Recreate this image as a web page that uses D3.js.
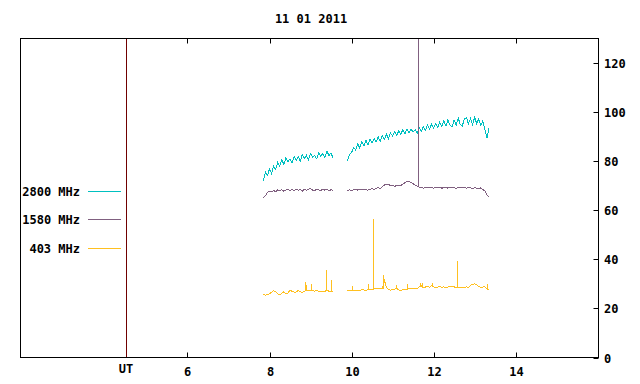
<!DOCTYPE html>
<html lang="en">
<head>
<meta charset="UTF-8">
<title>11 01 2011</title>
<style>
  body { margin: 0; background: #fff; }
  text { font-family: "DejaVu Sans Mono", monospace; font-weight: bold; font-size: 12px; fill: #000; }
</style>
</head>
<body>
<script src="https://d3js.org/d3.v7.min.js"></script>
<script>
// sample times (UT hours), two observing segments
var timesA = [7.85,7.90,7.95,8.00,8.05,8.10,8.15,8.20,8.25,8.30,8.35,8.40,8.45,8.50,8.55,8.60,8.65,8.70,8.75,8.80,8.85,8.90,8.95,9.00,9.05,9.10,9.15,9.20,9.25,9.30,9.35,9.40,9.45,9.50,9.55];
var timesB = [9.90,9.95,10.00,10.05,10.10,10.15,10.20,10.25,10.30,10.35,10.40,10.45,10.50,10.55,10.60,10.65,10.70,10.75,10.80,10.85,10.90,10.95,
  11.00,11.05,11.10,11.15,11.20,11.25,11.30,11.35,11.40,11.45,11.50,11.55,11.60,11.65,11.70,11.75,11.80,11.85,11.90,11.95,
  12.00,12.05,12.10,12.15,12.20,12.25,12.30,12.35,12.40,12.45,12.50,12.55,12.60,12.65,12.70,12.75,12.80,12.85,12.90,12.95,
  13.00,13.05,13.10,13.15,13.20,13.25,13.30,13.35];

// 2800 MHz
var f2800A = [72.0,75.5,74.2,76.8,75.0,77.9,76.6,79.5,78.0,80.6,78.6,81.4,79.8,81.0,79.2,82.0,80.4,81.9,80.0,82.7,
  81.1,82.4,80.5,83.0,81.6,82.3,81.0,83.4,82.1,83.2,81.5,84.1,82.3,83.3,81.2];
var f2800B = [80.0,82.8,83.5,85.6,84.6,87.1,85.4,87.9,86.2,88.6,86.7,88.9,87.3,89.2,88.0,89.9,88.1,90.4,88.9,91.0,89.3,91.5,
  90.2,91.9,90.5,92.3,91.0,92.8,91.2,93.0,91.6,93.1,91.8,92.9,91.4,93.6,92.2,94.0,92.6,94.7,93.1,95.0,
  93.4,95.3,93.8,95.9,94.0,96.4,94.3,96.9,94.6,93.9,96.8,94.7,97.6,95.0,94.4,97.1,97.8,95.2,97.4,94.9,
  97.9,95.4,97.2,94.5,96.4,93.0,89.3,93.4];

// 1580 MHz
var f1580A = [65.2,66.0,67.2,67.8,67.5,68.1,67.6,68.3,67.9,68.4,67.8,68.2,68.6,68.0,68.5,67.9,68.7,68.2,68.4,67.8,68.6,68.1,68.5,68.9,68.2,67.9,68.6,68.3,68.0,68.7,68.2,68.5,67.9,68.4,68.1];
var f1580B = [67.8,68.3,68.0,68.4,68.6,68.2,68.5,68.3,68.7,68.4,68.2,68.6,68.8,68.5,69.0,69.2,68.9,69.6,70.3,70.6,70.4,70.2,
  70.0,69.8,70.0,70.3,70.1,70.6,71.2,71.7,71.8,71.3,70.8,70.2,69.8,69.5,69.2,69.0,69.3,69.1,69.4,69.2,
  69.0,69.3,69.1,69.4,69.0,69.2,69.3,69.0,69.4,69.1,69.2,69.0,69.3,69.1,69.4,69.2,69.0,69.3,69.1,68.9,
  69.2,69.0,68.8,69.1,68.4,67.9,66.2,65.6];

// 403 MHz
var f403A = [25.8,25.4,25.6,25.9,26.6,27.2,26.8,25.9,25.5,26.2,26.8,25.8,26.3,27.4,27.0,26.6,26.7,27.3,26.9,26.4,27.0,27.4,27.2,27.3,27.2,27.0,27.3,26.9,26.8,27.0,26.9,27.6,27.0,27.1,26.7];
var f403B = [27.3,27.4,27.2,27.4,27.3,27.5,27.4,27.6,27.5,27.4,27.7,27.6,27.8,27.9,28.1,27.9,28.2,28.0,31.5,28.6,27.7,27.5,
  27.6,27.8,28.2,27.5,27.4,27.6,27.5,27.7,28.2,28.3,27.9,28.1,28.0,28.9,29.2,28.5,28.7,29.0,28.6,29.4,
  28.8,28.5,28.7,28.9,28.6,28.8,28.4,28.7,29.0,28.9,28.8,28.5,28.7,28.4,28.6,28.5,28.8,28.6,29.4,29.8,
  30.0,29.6,29.0,28.6,28.7,28.8,28.0,27.6];

// short bursts: [time, peak value]
var spikes403 = [[8.86,30.8],[8.88,29.6],[9.02,29.8],[9.37,35.5],[9.50,31.5],
  [10.02,29.2],[10.40,30.0],[10.52,56.3],[10.77,33.7],[11.09,29.4],[11.36,29.8],[11.66,30.5],[11.72,30.5],[11.95,30.4],[12.58,39.2],[13.30,29.8]];
var spikes1580 = [[11.63,140]];
var spikes2800 = [];

var seriesNames = ["2800 MHz", "1580 MHz", "403 MHz"];
var seriesColors = ["#00c0c0", "#806080", "#ffc020"];
var xTicks = [6, 8, 10, 12, 14];
var yTicks = [0, 20, 40, 60, 80, 100, 120];
var utMark = 4.5;
var title = "11 01 2011";

var W = 640, H = 384;
var pL = 20.5, pR = 598.5, pT = 38.5, pB = 357.5;

var x = d3.scaleLinear().domain([1.93, 16.02]).range([pL, pR]);
var y = d3.scaleLinear().domain([0, 130]).range([pB, pT]);

var svg = d3.select("body").append("svg")
  .attr("width", W).attr("height", H);

svg.append("defs").append("clipPath").attr("id", "plot")
  .append("rect").attr("x", pL).attr("y", pT)
  .attr("width", pR - pL).attr("height", pB - pT);

svg.append("text").attr("x", 311).attr("y", 23)
  .attr("text-anchor", "middle").text(title);

// UT marker line
svg.append("line")
  .attr("x1", Math.round(x(utMark)) + 0.5).attr("x2", Math.round(x(utMark)) + 0.5)
  .attr("y1", pT).attr("y2", pB)
  .attr("stroke", "#700000").attr("stroke-width", 1);

var series = [
  { segs: [[timesA, f2800A], [timesB, f2800B]], spikes: spikes2800 },
  { segs: [[timesA, f1580A], [timesB, f1580B]], spikes: spikes1580 },
  { segs: [[timesA, f403A], [timesB, f403B]], spikes: spikes403 }
];

var line = d3.line().x(function(d) { return x(d[0]); }).y(function(d) { return y(d[1]); });
var plot = svg.append("g").attr("clip-path", "url(#plot)")
  .attr("shape-rendering", "crispEdges");

series.forEach(function(s, i) {
  var all = [];
  s.segs.forEach(function(seg) {
    var pts = seg[0].map(function(t, k) { return [t, seg[1][k]]; });
    all = all.concat(pts);
    plot.append("path").datum(pts)
      .attr("d", line)
      .attr("fill", "none")
      .attr("stroke", seriesColors[i])
      .attr("stroke-width", 1);
  });
  s.spikes.forEach(function(sp) {
    var near = d3.least(all, function(p) { return Math.abs(p[0] - sp[0]); });
    var xp = Math.round(x(sp[0])) + 0.5;
    plot.append("line")
      .attr("x1", xp).attr("x2", xp)
      .attr("y1", y(near[1])).attr("y2", y(sp[1]))
      .attr("stroke", seriesColors[i]).attr("stroke-width", 1);
  });
});

// frame
svg.append("rect").attr("x", pL).attr("y", pT)
  .attr("width", pR - pL).attr("height", pB - pT)
  .attr("fill", "none").attr("stroke", "#000").attr("stroke-width", 1);

// x ticks (bottom and top, inward)
xTicks.forEach(function(t) {
  var xp = Math.round(x(t)) + 0.5;
  svg.append("line").attr("x1", xp).attr("x2", xp).attr("y1", pB).attr("y2", pB - 5).attr("stroke", "#000");
  svg.append("line").attr("x1", xp).attr("x2", xp).attr("y1", pT).attr("y2", pT + 5).attr("stroke", "#000");
  svg.append("text").attr("x", xp).attr("y", 376).attr("text-anchor", "middle").text(t);
});
svg.append("text").attr("x", x(utMark)).attr("y", 373).attr("text-anchor", "middle").text("UT");

// y ticks on right
yTicks.forEach(function(v) {
  var yp = Math.round(y(v)) + 0.5;
  svg.append("line").attr("x1", pR).attr("x2", pR - 5).attr("y1", yp).attr("y2", yp).attr("stroke", "#000");
  svg.append("text").attr("x", 604).attr("y", yp + 4).text(v);
});

// legend
seriesNames.forEach(function(name, i) {
  var ly = Math.floor(191 + i * 28.6) + 0.5;
  svg.append("text").attr("x", 80).attr("y", ly + 4).attr("text-anchor", "end").text(name);
  svg.append("line").attr("x1", 88).attr("x2", 121).attr("y1", ly).attr("y2", ly)
    .attr("stroke", seriesColors[i]).attr("stroke-width", 1);
});
</script>
</body>
</html>
